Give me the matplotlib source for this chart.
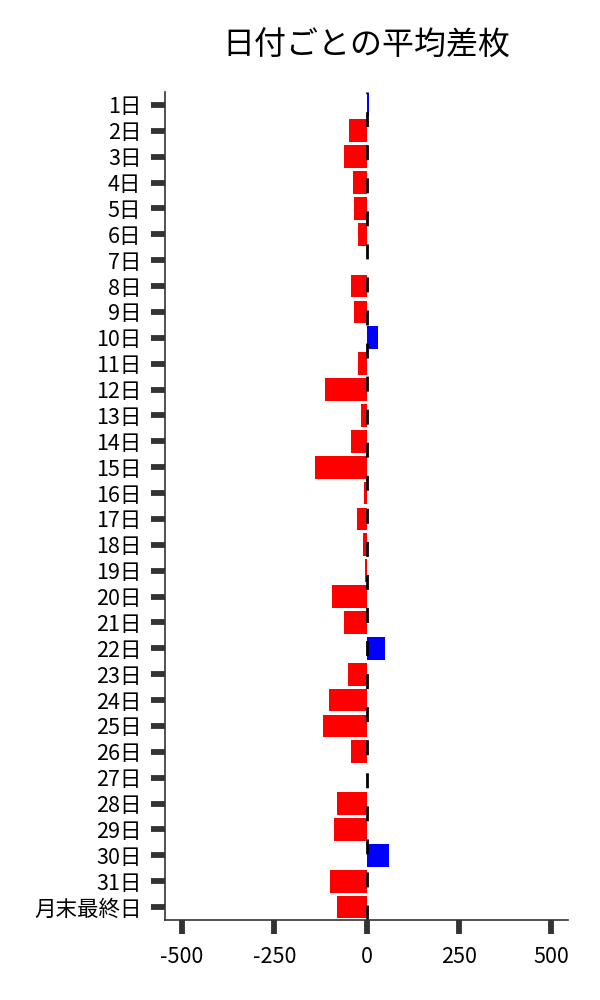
import matplotlib
matplotlib.use('Agg')
import matplotlib.pyplot as plt

plt.rcParams['font.family'] = ['Noto Sans CJK JP', 'DejaVu Sans']

# data
days = ['1日', '2日', '3日', '4日', '5日', '6日', '7日', '8日', '9日', '10日',
        '11日', '12日', '13日', '14日', '15日', '16日', '17日', '18日', '19日', '20日',
        '21日', '22日', '23日', '24日', '25日', '26日', '27日', '28日', '29日', '30日',
        '31日', '月末最終日']
avg_diff = [6, -49, -62, -38, -35, -24, 0, -41, -35, 30,
            -24, -114, -14, -43, -141, -8, -27, -11, -5, -95,
            -60, 49, -51, -103, -117, -43, 0, -79, -89, 60,
            -98, -81]
xticks = [-500, -250, 0, 250, 500]

colors = ['blue' if v > 0 else 'red' for v in avg_diff]

fig, ax = plt.subplots(figsize=(6, 10), dpi=100)
fig.subplots_adjust(left=0.275, right=0.947, top=0.908, bottom=0.08)

ax.barh(days, avg_diff, color=colors, height=0.88)
ax.axvline(0, color='black', linewidth=2, linestyle=(0, (5.4, 6.5)))

ax.set_xlim(-546, 546)
ax.set_ylim(31.5, -0.5)
ax.set_xticks(xticks)
ax.set_xticklabels([str(t) for t in xticks])

ax.set_title('日付ごとの平均差枚', fontsize=23, pad=27)

for s in ['top', 'right']:
    ax.spines[s].set_visible(False)
for s in ['left', 'bottom']:
    ax.spines[s].set_color('#333333')
    ax.spines[s].set_linewidth(1.2)

ax.tick_params(axis='both', direction='out', length=10, width=4.2,
               color='#333333', labelsize=15.5)
ax.tick_params(axis='y', pad=7)
ax.tick_params(axis='x', pad=9)

plt.savefig('out.png', dpi=100)
